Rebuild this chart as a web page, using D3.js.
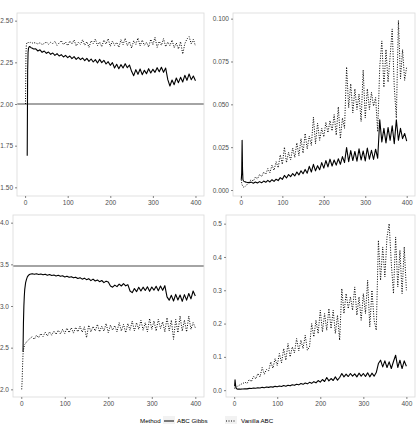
<!DOCTYPE html>
<html>
<head>
<meta charset="utf-8">
<script src="https://cdn.jsdelivr.net/npm/d3@7"></script>
<style>
  body { margin: 0; background: #fff; }
  text { font-family: 'Liberation Sans', Arial, sans-serif; }
</style>
</head>
<body>
<div id="chart"></div>
<script>
// iterations (x) shared by every series
let iter = [1, 2, 3, 4, 5, 6, 7, 8, 10, 12, 14, 16, 18, 20].concat(d3.range(25, 401, 5))

let gibbs1 = [null, null, null, null, 1.69, 2.20, 2.31, 2.335, 2.345, 2.343, 2.338, 2.336, 2.333, 2.330,
  2.331, 2.318, 2.325, 2.310, 2.318, 2.304, 2.312, 2.298, 2.306, 2.292,
  2.302, 2.288, 2.296, 2.282, 2.292, 2.278, 2.288, 2.272, 2.284, 2.268,
  2.280, 2.266, 2.276, 2.260, 2.274, 2.256, 2.270, 2.252, 2.266, 2.246,
  2.268, 2.248, 2.262, 2.240, 2.254, 2.232, 2.248, 2.216, 2.238, 2.212,
  2.236, 2.216, 2.242, 2.218, 2.234, 2.196, 2.170, 2.206, 2.178, 2.210,
  2.176, 2.202, 2.182, 2.212, 2.186, 2.208, 2.190, 2.218, 2.194, 2.220,
  2.190, 2.216, 2.146, 2.108, 2.144, 2.116, 2.156, 2.128, 2.160, 2.132,
  2.172, 2.142, 2.180, 2.146, 2.168, 2.140]
let vanilla1 = [2.00, 2.30, 2.355, 2.365, 2.368, 2.370, 2.366, 2.369, 2.367, 2.370, 2.366, 2.368, 2.365, 2.368,
  2.366, 2.360, 2.368, 2.356, 2.364, 2.372, 2.358, 2.370, 2.362, 2.376,
  2.352, 2.366, 2.380, 2.356, 2.372, 2.350, 2.378, 2.360, 2.384, 2.348,
  2.370, 2.358, 2.386, 2.352, 2.374, 2.340, 2.380, 2.362, 2.390, 2.350,
  2.372, 2.344, 2.384, 2.360, 2.392, 2.346, 2.378, 2.352, 2.370, 2.340,
  2.386, 2.356, 2.394, 2.350, 2.374, 2.336, 2.380, 2.358, 2.396, 2.348,
  2.384, 2.352, 2.370, 2.342, 2.388, 2.356, 2.400, 2.340, 2.376, 2.352,
  2.392, 2.344, 2.372, 2.350, 2.384, 2.338, 2.366, 2.330, 2.374, 2.300,
  2.362, 2.390, 2.404, 2.360, 2.388, 2.348]

let gibbs2 = [0.006, 0.010, 0.029, 0.012, 0.006, 0.0055, 0.0052, 0.005, 0.0048, 0.0046, 0.0045, 0.0044, 0.0043, 0.0043,
  0.0046, 0.0040, 0.0047, 0.0041, 0.0049, 0.0042, 0.0052, 0.0045, 0.0056, 0.0047,
  0.0060, 0.0050, 0.0063, 0.0055, 0.0072, 0.0062, 0.0085, 0.0070, 0.0090, 0.0078,
  0.0096, 0.0082, 0.0105, 0.0088, 0.0112, 0.0095, 0.0120, 0.0098, 0.0138, 0.0105,
  0.0150, 0.0112, 0.0142, 0.0118, 0.0160, 0.0128, 0.0172, 0.0135, 0.0180, 0.0140,
  0.0175, 0.0145, 0.0182, 0.0150, 0.0195, 0.0160, 0.0248, 0.0165, 0.0230, 0.0172,
  0.0225, 0.0168, 0.0240, 0.0175, 0.0228, 0.0170, 0.0245, 0.0180, 0.0232, 0.0178,
  0.0238, 0.0185, 0.0410, 0.0280, 0.0360, 0.0275, 0.0365, 0.0290, 0.0375, 0.0270,
  0.0410, 0.0290, 0.0360, 0.0300, 0.0330, 0.0285]
let vanilla2 = [0.006, 0.004, 0.003, 0.0025, 0.002, 0.0018, 0.0016, 0.0015, 0.002, 0.0025, 0.003, 0.0035, 0.0042, 0.005,
  0.0060, 0.0052, 0.0075, 0.0065, 0.0090, 0.0078, 0.0105, 0.0092, 0.0125, 0.0100,
  0.0145, 0.0115, 0.0165, 0.0130, 0.0205, 0.0150, 0.0250, 0.0160, 0.0220, 0.0175,
  0.0245, 0.0190, 0.0275, 0.0200, 0.0300, 0.0215, 0.0330, 0.0240, 0.0315, 0.0260,
  0.0425, 0.0270, 0.0390, 0.0290, 0.0360, 0.0310, 0.0395, 0.0335, 0.0405, 0.0345,
  0.0440, 0.0320, 0.0485, 0.0300, 0.0420, 0.0360, 0.0718, 0.0480, 0.0620, 0.0450,
  0.0590, 0.0470, 0.0560, 0.0400, 0.0700, 0.0420, 0.0590, 0.0470, 0.0570, 0.0490,
  0.0540, 0.0340, 0.0720, 0.0870, 0.0600, 0.0820, 0.0630, 0.0780, 0.0940, 0.0600,
  0.0420, 0.0990, 0.0650, 0.0820, 0.0640, 0.0720]

let gibbs3 = [null, null, null, 2.45, 2.80, 3.00, 3.12, 3.20, 3.28, 3.32, 3.35, 3.365, 3.375, 3.38,
  3.388, 3.380, 3.386, 3.378, 3.384, 3.374, 3.382, 3.370, 3.378, 3.366,
  3.372, 3.360, 3.368, 3.356, 3.362, 3.348, 3.358, 3.344, 3.352, 3.338,
  3.346, 3.330, 3.340, 3.322, 3.334, 3.316, 3.328, 3.304, 3.322, 3.300,
  3.312, 3.292, 3.306, 3.280, 3.298, 3.288, 3.240, 3.226, 3.250, 3.232,
  3.262, 3.240, 3.268, 3.242, 3.256, 3.180, 3.160, 3.210, 3.172, 3.224,
  3.180, 3.226, 3.186, 3.230, 3.176, 3.228, 3.190, 3.236, 3.184, 3.240,
  3.188, 3.244, 3.110, 3.070, 3.128, 3.060, 3.140, 3.072, 3.132, 3.056,
  3.136, 3.070, 3.150, 3.086, 3.180, 3.120]
let vanilla3 = [2.00, 2.10, 2.28, 2.42, 2.47, 2.50, 2.52, 2.54, 2.55, 2.57, 2.58, 2.59, 2.60, 2.61,
  2.630, 2.600, 2.650, 2.620, 2.670, 2.635, 2.685, 2.640, 2.690, 2.650,
  2.700, 2.660, 2.710, 2.665, 2.720, 2.670, 2.735, 2.680, 2.740, 2.675,
  2.745, 2.690, 2.760, 2.685, 2.750, 2.620, 2.770, 2.690, 2.755, 2.700,
  2.780, 2.690, 2.760, 2.700, 2.790, 2.680, 2.770, 2.710, 2.765, 2.690,
  2.800, 2.700, 2.780, 2.680, 2.790, 2.710, 2.820, 2.700, 2.800, 2.720,
  2.830, 2.710, 2.800, 2.690, 2.850, 2.720, 2.820, 2.700, 2.840, 2.730,
  2.810, 2.690, 2.860, 2.700, 2.830, 2.600, 2.840, 2.680, 2.880, 2.700,
  2.830, 2.690, 2.880, 2.720, 2.800, 2.740]

let gibbs4 = [0.012, 0.031, 0.018, 0.008, 0.005, 0.004, 0.0035, 0.003, 0.003, 0.003, 0.003, 0.0032, 0.0034, 0.0036,
  0.0045, 0.0040, 0.0055, 0.0048, 0.0065, 0.0058, 0.0075, 0.0066, 0.0085, 0.0075,
  0.0095, 0.0084, 0.0105, 0.0092, 0.0115, 0.0102, 0.0125, 0.0110, 0.0140, 0.0120,
  0.0150, 0.0130, 0.0165, 0.0145, 0.0180, 0.0160, 0.0200, 0.0175, 0.0215, 0.0190,
  0.0235, 0.0205, 0.0255, 0.0220, 0.0290, 0.0240, 0.0320, 0.0260, 0.0380, 0.0280,
  0.0350, 0.0290, 0.0400, 0.0300, 0.0380, 0.0500, 0.0400, 0.0480, 0.0410, 0.0500,
  0.0420, 0.0490, 0.0400, 0.0510, 0.0420, 0.0500, 0.0410, 0.0520, 0.0400, 0.0510,
  0.0420, 0.0530, 0.0800, 0.0900, 0.0700, 0.0880, 0.0680, 0.0850, 0.0650, 0.0860,
  0.1050, 0.0680, 0.0900, 0.0650, 0.0880, 0.0720]
let vanilla4 = [0.005, 0.010, 0.014, 0.012, 0.010, 0.010, 0.011, 0.012, 0.013, 0.015, 0.016, 0.018, 0.019, 0.020,
  0.024, 0.020, 0.032, 0.026, 0.042, 0.034, 0.050, 0.040, 0.068, 0.048,
  0.062, 0.058, 0.085, 0.066, 0.095, 0.074, 0.110, 0.082, 0.125, 0.090,
  0.140, 0.100, 0.130, 0.112, 0.155, 0.118, 0.150, 0.125, 0.165, 0.120,
  0.130, 0.200, 0.160, 0.210, 0.170, 0.240, 0.175, 0.230, 0.180, 0.245,
  0.185, 0.240, 0.170, 0.225, 0.150, 0.305, 0.230, 0.290, 0.245, 0.280,
  0.240, 0.310, 0.225, 0.280, 0.210, 0.290, 0.230, 0.330, 0.190, 0.300,
  0.210, 0.180, 0.450, 0.330, 0.430, 0.340, 0.460, 0.500, 0.380, 0.290,
  0.460, 0.310, 0.420, 0.290, 0.430, 0.300]

let xTicks = [0, 100, 200, 300, 400]
let yTicks1 = [1.50, 1.75, 2.00, 2.25, 2.50]
let yTicks2 = [0.000, 0.025, 0.050, 0.075, 0.100]
let yTicks3 = [2.0, 2.5, 3.0, 3.5, 4.0]
let yTicks4 = [0.0, 0.1, 0.2, 0.3, 0.4, 0.5]
let trueValues = [2.0, null, 3.48, null]
let methods = ['ABC Gibbs', 'Vanilla ABC']

let panels = [
  { gibbs: gibbs1, vanilla: vanilla1, ticks: yTicks1, fmt: '.2f', ref: trueValues[0], yDomain: [1.448, 2.546], box: [17, 13, 204, 196] },
  { gibbs: gibbs2, vanilla: vanilla2, ticks: yTicks2, fmt: '.3f', ref: trueValues[1], yDomain: [-0.0035, 0.1033], box: [233, 13, 415, 196] },
  { gibbs: gibbs3, vanilla: vanilla3, ticks: yTicks3, fmt: '.1f', ref: trueValues[2], yDomain: [1.908, 4.092], box: [13, 215, 204, 397] },
  { gibbs: gibbs4, vanilla: vanilla4, ticks: yTicks4, fmt: '.1f', ref: trueValues[3], yDomain: [-0.0205, 0.526], box: [226, 215, 415, 397] }
]

let svg = d3.select('#chart').append('svg')
  .attr('width', 420)
  .attr('height', 424)

panels.forEach(function (p, i) {
  let x = d3.scaleLinear().domain([-19, 420]).range([p.box[0], p.box[2]])
  let y = d3.scaleLinear().domain(p.yDomain).range([p.box[3], p.box[1]])
  let g = svg.append('g')

  g.append('clipPath').attr('id', 'clip' + i)
    .append('rect')
    .attr('x', p.box[0]).attr('y', p.box[1])
    .attr('width', p.box[2] - p.box[0]).attr('height', p.box[3] - p.box[1])

  let line = d3.line()
    .defined(function (d) { return d[1] != null })
    .x(function (d) { return x(d[0]) })
    .y(function (d) { return y(d[1]) })

  let plot = g.append('g').attr('clip-path', 'url(#clip' + i + ')')

  if (p.ref != null) {
    plot.append('line')
      .attr('x1', p.box[0]).attr('x2', p.box[2])
      .attr('y1', y(p.ref)).attr('y2', y(p.ref))
      .attr('stroke', '#4a4a4a')
      .attr('stroke-width', 1.2)
  }

  plot.append('path')
    .datum(iter.map(function (t, k) { return [t, p.vanilla[k]] }))
    .attr('d', line)
    .attr('fill', 'none')
    .attr('stroke', '#000')
    .attr('stroke-width', 1)
    .attr('stroke-dasharray', '1,1.5')

  plot.append('path')
    .datum(iter.map(function (t, k) { return [t, p.gibbs[k]] }))
    .attr('d', line)
    .attr('fill', 'none')
    .attr('stroke', '#000')
    .attr('stroke-width', 1.1)
    .attr('stroke-linejoin', 'round')

  g.append('rect')
    .attr('x', p.box[0]).attr('y', p.box[1])
    .attr('width', p.box[2] - p.box[0]).attr('height', p.box[3] - p.box[1])
    .attr('fill', 'none')
    .attr('stroke', '#d9d9d9')
    .attr('stroke-width', 0.8)

  let ax = g.append('g')
    .attr('transform', 'translate(0,' + p.box[3] + ')')
    .call(d3.axisBottom(x).tickValues(xTicks).tickSize(2).tickPadding(2))
  let ay = g.append('g')
    .attr('transform', 'translate(' + p.box[0] + ',0)')
    .call(d3.axisLeft(y).tickValues(p.ticks).tickSize(2).tickPadding(2).tickFormat(d3.format(p.fmt)))

  ;[ax, ay].forEach(function (a) {
    a.select('.domain').remove()
    a.selectAll('line').attr('stroke', '#333').attr('stroke-width', 0.6)
    a.selectAll('text')
      .attr('fill', '#4d4d4d')
      .style('font-size', '6.5px')
      .style('font-family', "'Liberation Sans', Arial, sans-serif")
  })
})

// legend
let legend = svg.append('g').attr('transform', 'translate(0,421)')
legend.append('text')
  .attr('x', 140).attr('y', 2.2)
  .attr('fill', '#000')
  .style('font-size', '6.2px')
  .text('Method')

let keyX = [163, 225]
let labelX = [177, 241]
methods.forEach(function (m, k) {
  legend.append('rect')
    .attr('x', keyX[k]).attr('y', -5)
    .attr('width', 12).attr('height', 10)
    .attr('fill', '#f2f2f2')
  legend.append('line')
    .attr('x1', keyX[k] + 1).attr('x2', keyX[k] + 11)
    .attr('y1', 0).attr('y2', 0)
    .attr('stroke', '#000')
    .attr('stroke-width', 1)
    .attr('stroke-dasharray', k === 1 ? '1,1.5' : null)
  legend.append('text')
    .attr('x', labelX[k]).attr('y', 2.2)
    .attr('fill', '#000')
    .style('font-size', '6.2px')
    .text(m)
})
</script>
</body>
</html>
